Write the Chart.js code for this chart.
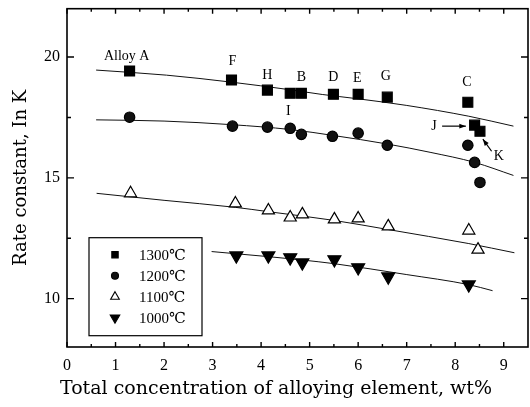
<!DOCTYPE html>
<html>
<head>
<meta charset="utf-8">
<script src="https://cdn.jsdelivr.net/npm/chart.js@4.4.1/dist/chart.umd.min.js"></script>
<style>
  html, body { margin: 0; padding: 0; background: #fff; }
  #wrap { width: 530px; height: 407px; }
</style>
</head>
<body>
<div id="wrap"><canvas id="chart"></canvas></div>
<script>
// series (x = wt%, y = ln K)
const seriesLabels = ['1300\u2103', '1200\u2103', '1100\u2103', '1000\u2103'];

const conc1300 = [1.29, 3.39, 4.13, 4.60, 4.83, 5.49, 6.00, 6.60, 8.26, 8.40, 8.51];
const lnK1300  = [19.42, 19.05, 18.63, 18.50, 18.50, 18.46, 18.46, 18.34, 18.13, 17.18, 16.93];

const conc1200 = [1.29, 3.41, 4.13, 4.60, 4.83, 5.47, 6.00, 6.60, 8.26, 8.40, 8.51];
const lnK1200  = [17.51, 17.14, 17.10, 17.05, 16.80, 16.72, 16.85, 16.35, 16.35, 15.64, 14.81];

const conc1100 = [1.31, 3.47, 4.15, 4.60, 4.85, 5.51, 6.00, 6.62, 8.28, 8.47];
const lnK1100  = [14.36, 13.94, 13.65, 13.36, 13.49, 13.28, 13.32, 12.99, 12.82, 12.03];

const conc1000 = [3.49, 4.15, 4.60, 4.85, 5.51, 6.00, 6.62, 8.28];
const lnK1000  = [11.78, 11.78, 11.70, 11.49, 11.62, 11.29, 10.91, 10.58];

// fitted curves
const fit1300X = [0.60, 2.05, 3.39, 4.58, 5.26, 5.96, 6.99, 8.28, 9.20];
const fit1300Y = [19.46, 19.25, 18.96, 18.65, 18.45, 18.28, 18.00, 17.55, 17.14];
const fit1200X = [0.60, 2.00, 3.40, 4.60, 5.50, 6.60, 7.50, 8.40, 9.20];
const fit1200Y = [17.40, 17.35, 17.20, 17.00, 16.75, 16.40, 16.05, 15.64, 15.10];
const fit1100X = [0.61, 2.00, 3.47, 4.15, 5.50, 6.62, 8.28, 9.22];
const fit1100Y = [14.36, 14.07, 13.78, 13.60, 13.24, 12.86, 12.28, 11.90];
const fit1000X = [2.98, 4.15, 4.85, 5.50, 6.99, 8.28, 8.77];
const fit1000Y = [11.95, 11.74, 11.60, 11.45, 11.00, 10.58, 10.33];

// axis ticks
const xMajorTicks = [0, 1, 2, 3, 4, 5, 6, 7, 8, 9];
const xMinorTicks = [0.5, 1.5, 2.5, 3.5, 4.5, 5.5, 6.5, 7.5, 8.5];
const yMajorTicks = [10, 15, 20];
const yMinorTicks = [12.5, 17.5];
const xTitle = 'Total concentration of alloying element, wt%';

// alloy tags (data coords) and arrows
const tagText = ['Alloy A', 'F', 'H', 'B', 'D', 'E', 'G', 'C', 'I', 'J', 'K'];
const tagX    = [1.23, 3.41, 4.13, 4.83, 5.49, 5.98, 6.57, 8.24, 4.56, 7.56, 8.90];
const tagY    = [20.04, 19.83, 19.25, 19.17, 19.17, 19.13, 19.21, 18.96, 17.76, 17.14, 15.89];
const arrowFrom = [[7.73, 17.14], [8.75, 16.10]];
const arrowTo   = [[8.22, 17.14], [8.57, 16.60]];

function pts(xs, ys) { return xs.map((v, i) => ({x: v, y: ys[i]})); }

const markerStyles = [
  {pointStyle: 'rect', radius: 7, bg: '#000', border: '#000', rotation: 0},
  {pointStyle: 'circle', radius: 5.2, bg: '#111', border: '#000', rotation: 0},
  {pointStyle: 'triangle', radius: 7, bg: '#fff', border: '#000', rotation: 0},
  {pointStyle: 'triangle', radius: 7.5, bg: '#000', border: '#000', rotation: 180}
];

const markerData = [pts(conc1300, lnK1300), pts(conc1200, lnK1200), pts(conc1100, lnK1100), pts(conc1000, lnK1000)];
const fitData = [pts(fit1300X, fit1300Y), pts(fit1200X, fit1200Y), pts(fit1100X, fit1100Y), pts(fit1000X, fit1000Y)];

const datasets = [];
fitData.forEach((d, i) => {
  datasets.push({
    label: 'fit ' + seriesLabels[i], data: d, showLine: true, pointRadius: 0,
    borderColor: '#111', borderWidth: 1, cubicInterpolationMode: 'monotone', order: 2
  });
});
markerData.forEach((d, i) => {
  const s = markerStyles[i];
  datasets.push({
    label: seriesLabels[i], data: d, showLine: false,
    pointStyle: s.pointStyle, pointRadius: s.radius, pointRotation: s.rotation,
    pointBackgroundColor: s.bg, pointBorderColor: s.border, pointBorderWidth: 1.2, order: 1
  });
});

const noPad = s => { s.paddingTop = 0; s.paddingBottom = 0; s.paddingLeft = 0; s.paddingRight = 0; };

const frame = {
  id: 'frame',
  afterLayout(chart) {
    // stretch the plot to the right edge like the original frame
    const right = chart.width - 2;
    const x = chart.scales.x;
    chart.chartArea.right = right;
    chart.chartArea.width = right - chart.chartArea.left;
    x.right = right;
    x.width = right - x.left;
    x.configure();
  },
  afterDraw(chart) {
    const {ctx, chartArea: a, scales: {x, y}} = chart;
    ctx.save();
    ctx.strokeStyle = '#000';
    ctx.lineWidth = 1.6;
    ctx.strokeRect(a.left, a.top, a.right - a.left, a.bottom - a.top);

    ctx.lineWidth = 1.4;
    ctx.beginPath();
    const tickX = (v, len) => {
      const px = x.getPixelForValue(v);
      ctx.moveTo(px, a.bottom); ctx.lineTo(px, a.bottom - len);
      ctx.moveTo(px, a.top); ctx.lineTo(px, a.top + len);
    };
    const tickY = (v, len) => {
      const py = y.getPixelForValue(v);
      ctx.moveTo(a.left, py); ctx.lineTo(a.left + len, py);
      ctx.moveTo(a.right, py); ctx.lineTo(a.right - len, py);
    };
    xMajorTicks.forEach(v => tickX(v, 5));
    xMinorTicks.forEach(v => tickX(v, 3));
    yMajorTicks.forEach(v => tickY(v, 7));
    yMinorTicks.forEach(v => tickY(v, 4));
    ctx.stroke();

    // x axis title, set a bit left of the plot centre as in the original
    ctx.fillStyle = '#000';
    ctx.font = '19px "DejaVu Serif", serif';
    ctx.textAlign = 'center';
    ctx.textBaseline = 'middle';
    ctx.fillText(xTitle, 276, 389);

    // tags
    ctx.font = '14px "Liberation Serif", serif';
    tagText.forEach((t, i) => ctx.fillText(t, x.getPixelForValue(tagX[i]), y.getPixelForValue(tagY[i])));

    // arrows
    ctx.lineWidth = 1.2;
    arrowFrom.forEach((f, i) => {
      const x0 = x.getPixelForValue(f[0]), y0 = y.getPixelForValue(f[1]);
      const x1 = x.getPixelForValue(arrowTo[i][0]), y1 = y.getPixelForValue(arrowTo[i][1]);
      const ang = Math.atan2(y1 - y0, x1 - x0);
      ctx.beginPath(); ctx.moveTo(x0, y0); ctx.lineTo(x1, y1); ctx.stroke();
      ctx.beginPath();
      ctx.moveTo(x1, y1);
      ctx.lineTo(x1 - 7 * Math.cos(ang - 0.35), y1 - 7 * Math.sin(ang - 0.35));
      ctx.lineTo(x1 - 7 * Math.cos(ang + 0.35), y1 - 7 * Math.sin(ang + 0.35));
      ctx.closePath(); ctx.fill();
    });

    // legend box
    const lx = a.left + 22, ly = a.top + 229, lw = 113, lh = 98;
    ctx.lineWidth = 1.2;
    ctx.strokeRect(lx, ly, lw, lh);
    const legendSizes = [4.5, 3.5, 5, 5.5];
    ctx.font = '15px "Liberation Serif", "DejaVu Serif", serif';
    ctx.textAlign = 'left';
    seriesLabels.forEach((lab, i) => {
      const s = markerStyles[i];
      const ry = ly + 17 + i * 21;
      ctx.fillStyle = s.bg;
      ctx.strokeStyle = s.border;
      ctx.lineWidth = 1.1;
      Chart.helpers.drawPoint(ctx, {pointStyle: s.pointStyle, rotation: s.rotation, radius: legendSizes[i], borderWidth: 1.1}, lx + 26, ry);
      ctx.fillStyle = '#000';
      ctx.fillText(lab, lx + 50, ry + 1);
    });
    ctx.restore();
  }
};

new Chart(document.getElementById('chart'), {
  type: 'scatter',
  data: {datasets},
  options: {
    responsive: true,
    maintainAspectRatio: false,
    animation: false,
    layout: {padding: {top: 8, right: 2, left: 0, bottom: 0}},
    plugins: {legend: {display: false}, tooltip: {enabled: false}},
    scales: {
      x: {
        type: 'linear', min: 0, max: 9.5,
        afterBuildTicks: s => { s.ticks = xMajorTicks.map(v => ({value: v})); },
        afterFit: s => { s.height = 60; noPad(s); },
        grid: {display: false, drawTicks: false},
        border: {display: false},
        ticks: {padding: 9, color: '#000', font: {family: '"Liberation Serif", serif', size: 16}},
        title: {display: false}
      },
      y: {
        type: 'linear', min: 8, max: 22,
        afterBuildTicks: s => { s.ticks = yMajorTicks.map(v => ({value: v})); },
        afterFit: s => { s.width = 67; noPad(s); },
        grid: {display: false, drawTicks: false},
        border: {display: false},
        ticks: {padding: 7, color: '#000', font: {family: '"Liberation Serif", serif', size: 16}},
        title: {display: true, text: 'Rate constant, In K', color: '#000',
                font: {family: '"DejaVu Serif", serif', size: 18}, padding: {top: 11, bottom: 4}}
      }
    }
  },
  plugins: [frame]
});
</script>
</body>
</html>
